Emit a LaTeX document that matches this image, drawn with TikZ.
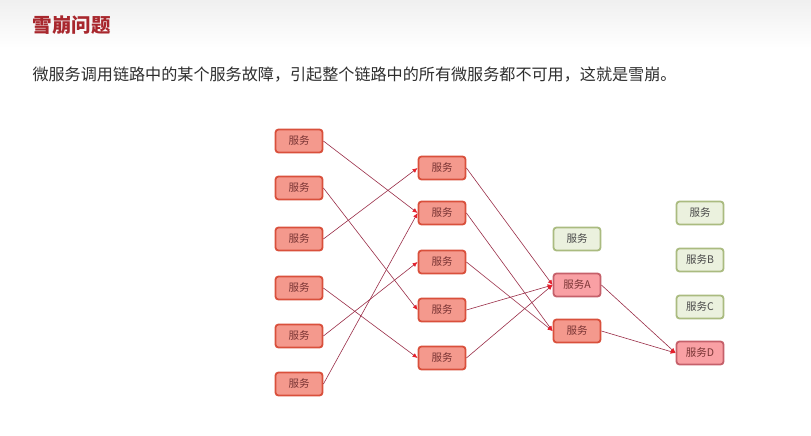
\documentclass[tikz,border=0pt]{standalone}
\usepackage{fontspec}
\newfontfamily\cjk{Noto Sans CJK SC}
\usetikzlibrary{arrows.meta,positioning}
\definecolor{avalRed}{HTML}{A8272D}
\definecolor{avalText}{HTML}{2E2E2E}
\definecolor{avalBoxFill}{HTML}{F4998D}
\definecolor{avalBoxLine}{HTML}{D9503C}
\definecolor{avalBoxText}{HTML}{7A3535}
\definecolor{avalPinkFill}{HTML}{F9A0A4}
\definecolor{avalPinkLine}{HTML}{C5606A}
\definecolor{avalGreenFill}{HTML}{EBF1DE}
\definecolor{avalGreenLine}{HTML}{AABB80}
\definecolor{avalGreenText}{HTML}{4A4A4A}
\definecolor{avalWire}{HTML}{9A2E48}
\definecolor{avalTip}{HTML}{E3202C}
\begin{document}
\begin{tikzpicture}[x=1pt,y=-1pt,
  svc/.style={draw=avalBoxLine,fill=avalBoxFill,line width=1.8pt,rounded corners=3pt,
    minimum width=47pt,minimum height=23pt,inner sep=0pt,
    font=\cjk\fontsize{10.5}{10.5}\selectfont,text=avalBoxText},
  svcHit/.style={svc,draw=avalPinkLine,fill=avalPinkFill},
  svcOk/.style={svc,draw=avalGreenLine,fill=avalGreenFill,text=avalGreenText},
  call/.style={avalWire,line width=.6pt,-{Latex[length=5pt,width=4.5pt,color=avalTip]}}]
  \useasboundingbox (0,0) rectangle (811,436);
  \fill[white] (0,0) rectangle (811,436);
  \shade[top color=black!6,bottom color=white] (0,0) rectangle (811,48);
  % heading
  \node[anchor=west,text=avalRed,font=\cjk\bfseries\fontsize{19.5}{19.5}\selectfont] (title) at (29,25) {雪崩问题};
  \node[anchor=west,text=avalText,font=\cjk\fontsize{16.1}{16.1}\selectfont] (intro) at (29,75)
    {微服务调用链路中的某个服务故障，引起整个链路中的所有微服务都不可用，这就是雪崩。};
  % services
  \foreach \i/\y in {1/141,2/188,3/239,4/288,5/336,6/384}
    \node[svc] (a\i) at (299,\y) {服务};
  \foreach \i/\y in {1/168,2/213,3/262,4/310,5/358}
    \node[svc] (b\i) at (442,\y) {服务};
  \node[svcOk] (c1) at (577,239) {服务};
  \node[svcHit] (c2) at (577,285) {服务A};
  \node[svc] (c3) at (577,331) {服务};
  \node[svcOk] (d1) at (700,213) {服务};
  \node[svcOk] (d2) at (700,260) {服务B};
  \node[svcOk] (d3) at (700,307) {服务C};
  \node[svcHit] (d4) at (700,353) {服务D};
  % calls
  \foreach \s/\t in {a1/b2,a2/b4,a3/b1,a4/b5,a5/b3,a6/b2,
                     b1/c2,b2/c3,b3/c3,b4/c2,b5/c2,c2/d4,c3/d4}
    \draw[call] (\s.east) -- (\t.west);
\end{tikzpicture}
\end{document}
